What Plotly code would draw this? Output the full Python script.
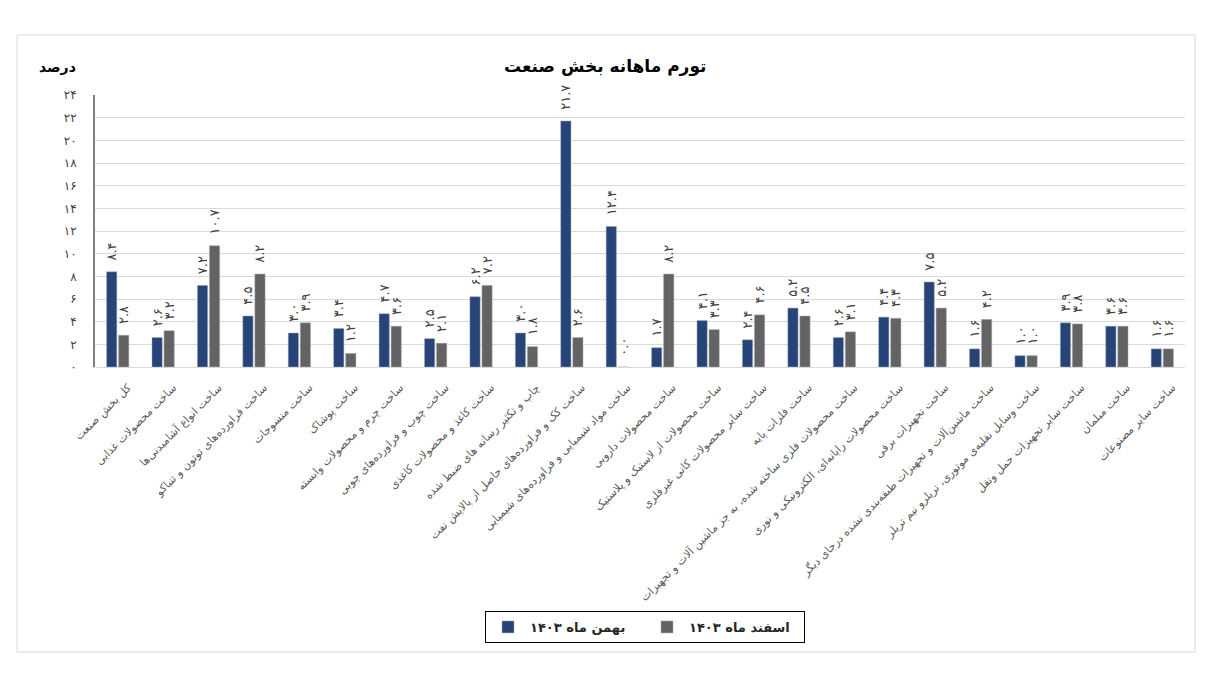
import plotly.graph_objects as go

categories = [
    "کل بخش صنعت",
    "ساخت محصولات غذایی",
    "ساخت انواع آشامیدنی‌ها",
    "ساخت فراورده‌های توتون و تنباکو",
    "ساخت منسوجات",
    "ساخت پوشاک",
    "ساخت چرم و محصولات وابسته",
    "ساخت چوب و فراورده‌های چوبی",
    "ساخت کاغذ و محصولات کاغذی",
    "چاپ و تکثیر رسانه های ضبط شده",
    "ساخت کک و فراورده‌های حاصل از پالایش نفت",
    "ساخت مواد شیمیایی و فراورده‌های شیمیایی",
    "ساخت محصولات دارویی",
    "ساخت محصولات از لاستیک و پلاستیک",
    "ساخت سایر محصولات کانی غیرفلزی",
    "ساخت فلزات پایه",
    "ساخت محصولات فلزی ساخته شده، به جز ماشین آلات و تجهیزات",
    "ساخت محصولات رایانه‌ای، الکترونیکی و نوری",
    "ساخت تجهیزات برقی",
    "ساخت ماشین‌آلات و تجهیزات طبقه‌بندی نشده درجای دیگر",
    "ساخت وسایل نقلیه‌ی موتوری، تریلرو نیم تریلر",
    "ساخت سایر تجهیزات حمل ونقل",
    "ساخت مبلمان",
    "ساخت سایر مصنوعات",
]

bahman_1403 = [8.4, 2.6, 7.2, 4.5, 3.0, 3.4, 4.7, 2.5, 6.2, 3.0, 21.7, 12.4,
               1.7, 4.1, 2.4, 5.2, 2.6, 4.4, 7.5, 1.6, 1.0, 3.9, 3.6, 1.6]
esfand_1403 = [2.8, 3.2, 10.7, 8.2, 3.9, 1.2, 3.6, 2.1, 7.2, 1.8, 2.6, 0.0,
               8.2, 3.3, 4.6, 4.5, 3.1, 4.3, 5.2, 4.2, 1.0, 3.8, 3.6, 1.6]

series_names = ["بهمن ماه ۱۴۰۳", "اسفند ماه ۱۴۰۳"]
y_tick_values = [0, 2, 4, 6, 8, 10, 12, 14, 16, 18, 20, 22, 24]
y_tick_labels = ["۰", "۲", "۴", "۶", "۸", "۱۰", "۱۲", "۱۴", "۱۶", "۱۸", "۲۰", "۲۲", "۲۴"]

title_text = "تورم ماهانه بخش صنعت"
y_unit = "درصد"

FA = str.maketrans("0123456789", "۰۱۲۳۴۵۶۷۸۹")


def fa(v):
    # leading non-breaking spaces keep the label a little above the bar
    return "\u00a0\u00a0" + f"{v:.1f}".translate(FA)


FONT = "Tahoma, DejaVu Sans, sans-serif"
BLUE = "#264478"
GRAY = "#636363"

fig = go.Figure()
for name, vals, col in [(series_names[0], bahman_1403, BLUE),
                        (series_names[1], esfand_1403, GRAY)]:
    fig.add_trace(go.Bar(
        x=categories, y=vals, name=name,
        marker=dict(color=col, line=dict(color="#a0a8b8", width=0.5)),
        text=[fa(v) for v in vals],
        textposition="outside", textangle=-90,
        textfont=dict(family=FONT, size=13, color="#404040"),
        cliponaxis=False,
    ))

# page offset (body margin) of 8px; reference coords are page coords
OFF = 8
W, H = 1230 - OFF, 700 - OFF
PL, PR, PT, PB = 95, 1185, 95, 367  # plot area in page px
L, R, T, B = PL - OFF, W - (PR - OFF), PT - OFF, H - (PB - OFF)
pw, ph = W - L - R, H - T - B


def px_x(x):
    return (x - PL) / pw


def px_y(y):
    return (PB - y) / ph


fig.update_layout(
    width=W, height=H,
    margin=dict(l=L, r=R, t=T, b=B, autoexpand=False),
    paper_bgcolor="white", plot_bgcolor="white",
    font=dict(family=FONT, color="#404040"),
    barmode="group", bargap=0.47, bargroupgap=0.15,
    uniformtext=dict(minsize=13, mode="show"),
    showlegend=True,
    legend=dict(
        orientation="h", x=px_x(645), xanchor="center",
        y=px_y(611), yanchor="top",
        bordercolor="#000000", borderwidth=1, bgcolor="white",
        font=dict(family=FONT, size=13, color="#262626", weight="bold"),
        entrywidth=110, itemwidth=34,
    ),
    shapes=[dict(type="rect", xref="paper", yref="paper",
                 x0=px_x(17), x1=px_x(1195), y0=px_y(652), y1=px_y(35),
                 line=dict(color="#d9d9d9", width=1), layer="below")],
    annotations=[
        dict(text=title_text, xref="paper", yref="paper",
             x=px_x(605), y=px_y(67), xanchor="center", yanchor="middle",
             showarrow=False,
             font=dict(family=FONT, size=17, color="#000000", weight="bold")),
        dict(text=y_unit, xref="paper", yref="paper",
             x=px_x(57), y=px_y(67), xanchor="center", yanchor="middle",
             showarrow=False,
             font=dict(family=FONT, size=14, color="#000000", weight="bold")),
    ],
)

fig.update_yaxes(
    range=[0, 24], tickvals=y_tick_values, ticktext=y_tick_labels,
    showgrid=True, gridcolor="#d9d9d9", gridwidth=1,
    showline=True, linecolor="#808080", linewidth=2,
    zeroline=False, ticks="", ticklabelstandoff=14,
    tickfont=dict(family=FONT, size=12, color="#404040"),
    fixedrange=True,
)
fig.update_xaxes(
    tickangle=-45, showline=True, linecolor="#d9d9d9", linewidth=1,
    ticks="", tickfont=dict(family=FONT, size=11, color="#595959"),
    ticklabelshift=10, ticklabelstandoff=9,
    automargin=False, fixedrange=True,
)

fig.write_html("out.html")
